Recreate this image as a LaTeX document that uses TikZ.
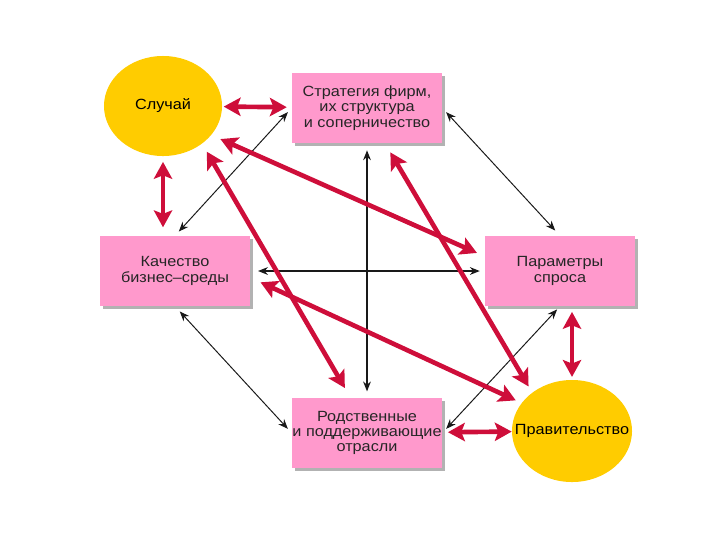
\documentclass[tikz,border=0pt]{standalone}
\usepackage{fontspec}
\setmainfont{Liberation Sans}[FakeStretch=1.1]
\usepackage{tikz}
\usetikzlibrary{arrows.meta, shapes.geometric, shadows}

\definecolor{boxpink}{RGB}{255,153,204}
\definecolor{sunyellow}{RGB}{255,204,0}
\definecolor{arrowred}{RGB}{206,14,58}

\begin{document}
\begin{tikzpicture}[x=0.025cm, y=-0.025cm,
  font=\fontsize{10.5}{10.8}\selectfont,
  box/.style={rectangle, fill=boxpink, minimum width=3.75cm, minimum height=1.75cm,
    align=center, inner sep=0pt, text=black!85,
    drop shadow={shadow xshift=2.2pt, shadow yshift=-2.2pt, opacity=1, fill=black!30}},
  fate/.style={ellipse, fill=sunyellow, inner sep=0pt},
  link/.style={{Stealth[length=7pt,width=5.5pt]}-{Stealth[length=7pt,width=5.5pt]},
    line width=0.7pt, black!90},
  redlink/.style={{Stealth[length=12pt,width=13pt,inset=2.5pt]}-{Stealth[length=12pt,width=13pt,inset=2.5pt]},
    line width=3.3pt, arrowred}]

\useasboundingbox (0,0) rectangle (720,540);

% factors
\node[fate, minimum width=2.95cm, minimum height=2.5cm, label=center:Случай] (chance) at (163,106) {};
\node[box] (strat) at (367,108) {Стратегия фирм,\\их структура\\и соперничество};
\node[box] (quality) at (175,271) {Качество\\бизнес–среды};
\node[box] (demand) at (560,271) {Параметры\\спроса};
\node[box] (related) at (367,433) {Родственные\\и поддерживающие\\отрасли};
\node[fate, minimum width=3cm, minimum height=2.55cm, label=center:Правительство] (gov) at (572,431) {};

% black links
\draw[link, line width=1.1pt, shorten <=5pt, shorten >=4.5pt] (strat.south) -- (related.north);
\draw[link, line width=1.1pt, shorten <=5.5pt, shorten >=3.5pt] (quality.east) -- (demand.west);
\draw[link, shorten <=4pt, shorten >=4pt] (strat.west) -- (quality.north);
\draw[link, shorten <=4pt, shorten >=5pt] (strat.east) -- (demand.north);
\draw[link, shorten <=5pt, shorten >=4pt] (quality.south) -- (related.west);
\draw[link, shorten <=3pt, shorten >=4pt] (demand.south) -- (related.east);

% red links
\draw[redlink, shorten <=1pt, shorten >=3.5pt] (chance) -- (strat);
\draw[redlink, shorten <=4pt, shorten >=6pt] (chance.south) -- (chance.south |- quality.north);
\draw[redlink, shorten <=7pt, shorten >=6pt] (chance.-31) -- (demand.169);
\draw[redlink, shorten <=6.5pt, shorten >=8pt] (chance.-44) -- (related.115);
\draw[redlink, shorten <=7.5pt, shorten >=5pt] (strat.-63) -- (gov.136);
\draw[redlink, shorten <=8pt, shorten >=4.5pt] (quality.-5) -- (gov.151);
\draw[redlink, shorten <=4pt, shorten >=2pt] (gov.north |- demand.south) -- (gov.north);
\draw[redlink, shorten <=4pt, shorten >=0pt] (related) -- (gov);

\end{tikzpicture}
\end{document}
